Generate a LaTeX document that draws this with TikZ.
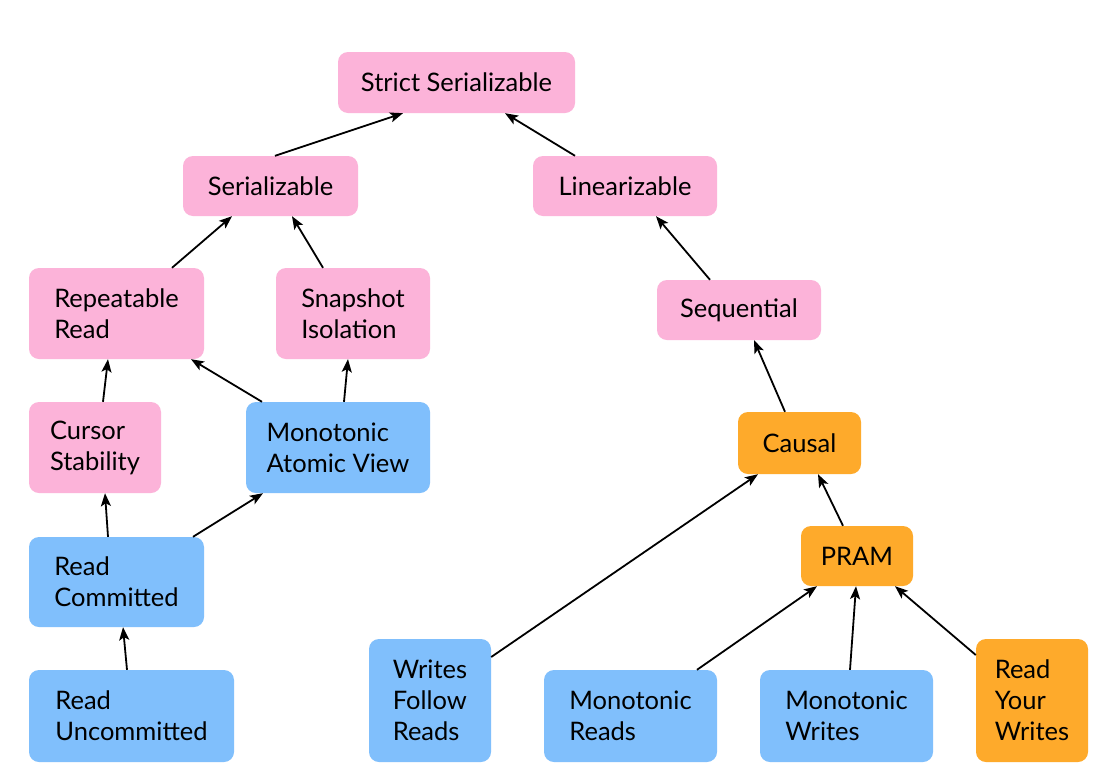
\documentclass[tikz,border=0pt]{standalone}
\usepackage{fontspec}
\setmainfont{Lato}
\usetikzlibrary{arrows.meta}
\definecolor{pinkc}{HTML}{FCB3D9}
\definecolor{bluec}{HTML}{80BFFC}
\definecolor{orangec}{HTML}{FEAA2B}
\begin{document}
\begin{tikzpicture}[x=1pt,y=-1pt,
  box/.style={rounded corners=10pt, inner sep=0pt, align=left,
    font=\fontsize{25.5}{31}\selectfont, text=black},
  pk/.style={box, fill=pinkc},
  bl/.style={box, fill=bluec},
  og/.style={box, fill=orangec},
  sz/.style args={#1x#2}{minimum width=#1pt, minimum height=#2pt},
  conn/.style={line width=1.8pt, -{Stealth[length=13pt,width=10pt,inset=3pt]}}]
\useasboundingbox (0,0) rectangle (1108,782);
\fill[white] (0,0) rectangle (1108,782);
% nodes
\node[pk, sz=237x61] (strict) at (456.5,82.5) {Strict Serializable};
\node[pk, sz=175x60] (ser) at (270.5,186) {Serializable};
\node[pk, sz=184x60] (lin) at (625,186) {Linearizable};
\node[pk, sz=175x91] (rr) at (116.5,313.5) {Repeatable\\Read};
\node[pk, sz=154x91] (si) at (353,313.5) {Snapshot\\Isolation};
\node[pk, sz=164x60] (seq) at (739,310) {Sequential};
\node[pk, sz=132x91] (cs) at (95,447.5) {Cursor\\Stability};
\node[bl, sz=184x91] (mav) at (338,447.5) {Monotonic\\Atomic View};
\node[og, sz=123x62] (causal) at (799.5,443) {Causal};
\node[og, sz=112x60] (pram) at (857,556) {PRAM};
\node[bl, sz=175x90] (rc) at (116.5,582) {Read\\Committed};
\node[bl, sz=205x92] (ru) at (131.5,716) {Read\\Uncommitted};
\node[bl, sz=122x123] (wfr) at (430,700.5) {Writes\\Follow\\Reads};
\node[bl, sz=173x92] (mr) at (630.5,716) {Monotonic\\Reads};
\node[bl, sz=173x92] (mw) at (846.5,716) {Monotonic\\Writes};
\node[og, sz=112x123] (ryw) at (1032,700.5) {Read\\Your\\Writes};
% connectors
\draw[conn] ([xshift=4.5pt]ser.north) -- ([xshift=-53.5pt]strict.south);
\draw[conn] ([xshift=-50pt]lin.north) -- ([xshift=48.5pt]strict.south);
\draw[conn] ([xshift=55.5pt]rr.north) -- ([xshift=-38.5pt]ser.south);
\draw[conn] ([xshift=-30pt]si.north) -- ([xshift=21.5pt]ser.south);
\draw[conn] ([xshift=-29pt]seq.north) -- ([xshift=31pt]lin.south);
\draw[conn] ([xshift=8pt]cs.north) -- ([xshift=-8.5pt]rr.south);
\draw[conn] ([xshift=-76pt]mav.north) -- ([xshift=74.5pt]rr.south);
\draw[conn] ([xshift=6pt]mav.north) -- ([xshift=-5pt]si.south);
\draw[conn] ([xshift=-14.5pt]causal.north) -- ([xshift=15pt]seq.south);
\draw[conn] ([xshift=-8.5pt]rc.north) -- ([xshift=10pt]cs.south);
\draw[conn] ([xshift=76.5pt]rc.north) -- ([xshift=-75pt]mav.south);
\draw[conn] ([xshift=-4.5pt]ru.north) -- ([xshift=6.5pt]rc.south);
\draw[conn] ([yshift=43.5pt]wfr.east) -- ([xshift=-41.5pt]causal.south);
\draw[conn] ([xshift=-14pt]pram.north) -- ([xshift=18.5pt]causal.south);
\draw[conn] ([xshift=66.5pt]mr.north) -- ([xshift=-40pt]pram.south);
\draw[conn] ([xshift=3.5pt]mw.north) -- ([xshift=-1pt]pram.south);
\draw[conn] ([yshift=45.5pt]ryw.west) -- ([xshift=38pt]pram.south);
\end{tikzpicture}
\end{document}
